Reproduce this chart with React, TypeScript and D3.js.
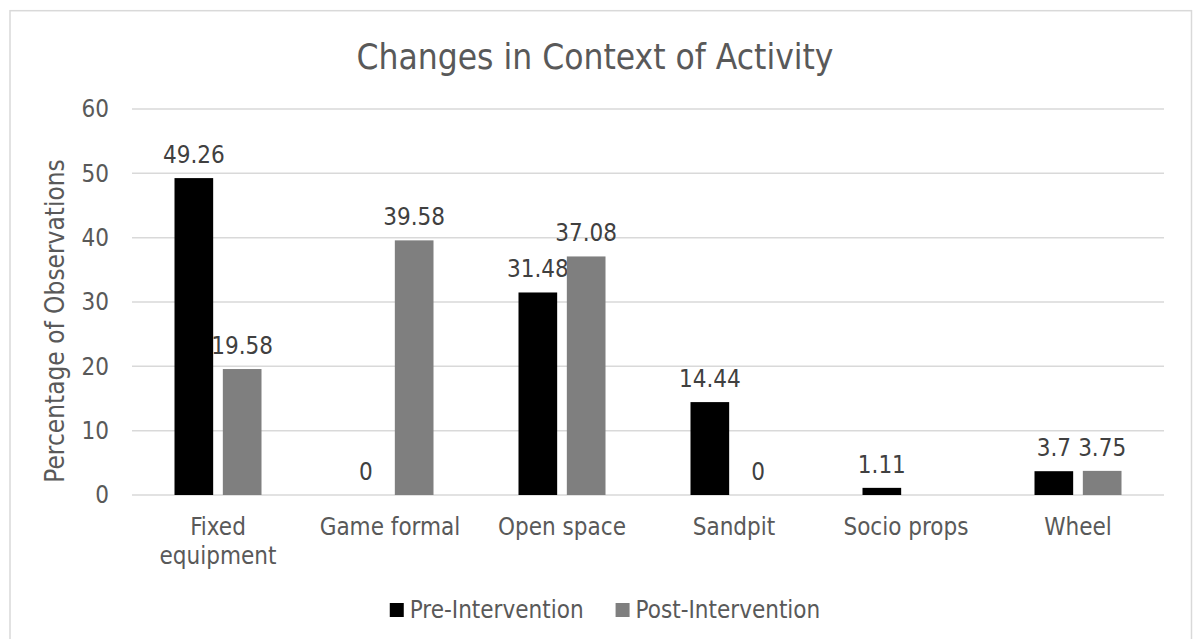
import React, { useEffect, useRef } from "react";
import * as d3 from "d3";

const categories = ["Fixed equipment", "Game formal", "Open space", "Sandpit", "Socio props", "Wheel"];
const categoryLines = [["Fixed", "equipment"], ["Game formal"], ["Open space"], ["Sandpit"], ["Socio props"], ["Wheel"]];
const preValues: (number | null)[] = [49.26, 0, 31.48, 14.44, 1.11, 3.7];
const postValues: (number | null)[] = [19.58, 39.58, 37.08, 0, null, 3.75];
const seriesNames = ["Pre-Intervention", "Post-Intervention"];
const seriesColors = ["#000000", "#7f7f7f"];
const yTicks = [0, 10, 20, 30, 40, 50, 60];

const W = 1193;
const H = 639;
const FONT = "Tahoma, 'DejaVu Sans Condensed', 'DejaVu Sans', sans-serif";
const TEXT = "#595959";

export default function App() {
  const ref = useRef<SVGSVGElement | null>(null);

  useEffect(() => {
    const svg = d3.select(ref.current);
    svg.selectAll("*").remove();

    const plot = { left: 132, right: 1164, top: 109, bottom: 495 };

    // chart frame
    svg.append("rect")
      .attr("x", 10).attr("y", 10.7)
      .attr("width", 1181.5).attr("height", 700)
      .attr("fill", "#ffffff")
      .attr("stroke", "#d9d9d9").attr("stroke-width", 1.5);

    const y = d3.scaleLinear().domain([0, 60]).range([plot.bottom, plot.top]);
    const x0 = d3.scaleBand<string>().domain(categories).range([plot.left, plot.right]).padding(0);
    const groupW = 87;
    const x1 = d3.scaleBand<number>().domain([0, 1]).range([0, groupW]).paddingInner(0.2).paddingOuter(0);

    // title
    svg.append("text")
      .attr("x", 595).attr("y", 69)
      .attr("text-anchor", "middle")
      .attr("font-family", FONT).attr("font-size", 35)
      .attr("fill", TEXT)
      .text("Changes in Context of Activity");

    // gridlines
    svg.append("g").selectAll("line").data(yTicks).join("line")
      .attr("x1", plot.left).attr("x2", plot.right)
      .attr("y1", (d) => y(d)).attr("y2", (d) => y(d))
      .attr("stroke", "#d9d9d9").attr("stroke-width", 1.5);

    // y tick labels
    svg.append("g").selectAll("text").data(yTicks).join("text")
      .attr("x", 109).attr("y", (d) => y(d))
      .attr("dy", "0.35em")
      .attr("text-anchor", "end")
      .attr("font-family", FONT).attr("font-size", 24)
      .attr("fill", TEXT)
      .text((d) => String(d));

    // y axis title
    svg.append("text")
      .attr("transform", `translate(64, 321) rotate(-90)`)
      .attr("text-anchor", "middle")
      .attr("font-family", FONT).attr("font-size", 26)
      .attr("fill", TEXT)
      .text("Percentage of Observations");

    const series = [preValues, postValues];
    const gBars = svg.append("g");
    categories.forEach((cat, ci) => {
      const cx = x0(cat)! + x0.bandwidth() / 2;
      const gx = cx - groupW / 2;
      series.forEach((vals, si) => {
        const v = vals[ci];
        if (v === null) return;
        const bx = gx + x1(si)!;
        const bw = x1.bandwidth();
        gBars.append("rect")
          .attr("x", bx).attr("y", y(v))
          .attr("width", bw).attr("height", y(0) - y(v))
          .attr("fill", seriesColors[si]);
        gBars.append("text")
          .attr("x", bx + bw / 2).attr("y", y(v) - 15)
          .attr("text-anchor", "middle")
          .attr("font-family", FONT).attr("font-size", 24)
          .attr("fill", "#404040")
          .text(String(v));
      });
    });

    // category labels
    const gCat = svg.append("g");
    categories.forEach((cat, ci) => {
      const cx = x0(cat)! + x0.bandwidth() / 2;
      categoryLines[ci].forEach((line, li) => {
        gCat.append("text")
          .attr("x", cx).attr("y", 535 + li * 29)
          .attr("text-anchor", "middle")
          .attr("font-family", FONT).attr("font-size", 24)
          .attr("fill", TEXT)
          .text(line);
      });
    });

    // legend
    const gLeg = svg.append("g");
    const sq = 14, gapSq = 6, gapItem = 32;
    const items = seriesNames.map((name, i) => {
      const t = gLeg.append("text")
        .attr("y", 618)
        .attr("font-family", FONT).attr("font-size", 24)
        .attr("fill", TEXT)
        .text(name);
      const w = (t.node() as SVGTextElement).getComputedTextLength();
      return { t, w, i };
    });
    const total = items.reduce((a, it) => a + sq + gapSq + it.w, 0) + gapItem * (items.length - 1);
    let lx = 605 - total / 2;
    items.forEach((it) => {
      gLeg.append("rect")
        .attr("x", lx).attr("y", 603)
        .attr("width", sq).attr("height", sq)
        .attr("fill", seriesColors[it.i]);
      it.t.attr("x", lx + sq + gapSq);
      lx += sq + gapSq + it.w + gapItem;
    });
  }, []);

  return (
    <svg
      ref={ref}
      width={W}
      height={H}
      style={{ position: "absolute", left: 0, top: 0, background: "#ffffff" }}
    />
  );
}
